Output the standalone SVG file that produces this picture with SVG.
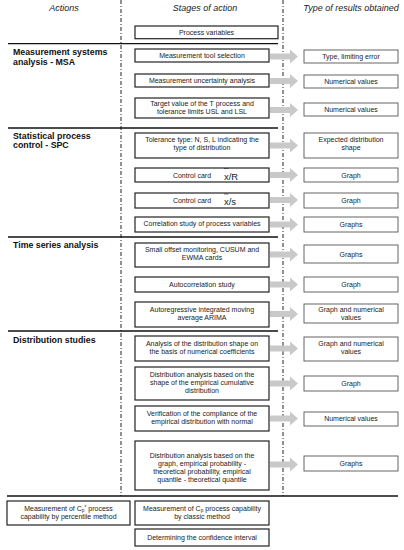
<svg xmlns="http://www.w3.org/2000/svg" xmlns:xlink="http://www.w3.org/1999/xlink" width="404" height="550" viewBox="0 0 404 550">
<style>
.bg{fill:#fff}
.st{fill:#fff;stroke:#222;stroke-width:1.2}
.rs{fill:#fff;stroke:#555;stroke-width:0.9}
.t{font-family:"Liberation Sans",Arial,sans-serif;font-size:7px;fill:#222;text-anchor:middle}
.big{font-size:9.5px}
.h{font-family:"Liberation Sans",Arial,sans-serif;font-size:9px;font-style:italic;fill:#222;text-anchor:middle}
.lb{font-family:"Liberation Sans",Arial,sans-serif;font-size:8.8px;font-weight:bold;fill:#111}
.vl{stroke:#222;stroke-width:1;stroke-dasharray:4 2 1 2;fill:none}
.hl{stroke:#111;stroke-width:1.3;fill:none}
.ar{fill:#c9c9c9}
</style>
<defs>
<path id="arr" d="M0,-3 H20 V-7 L28,0 L20,7 V3 H0 Z"/>
</defs>
<rect class="bg" width="404" height="550"/>
<g id="headers">
<text class="h" x="64" y="11">Actions</text>
<text class="h" x="205" y="11">Stages of action</text>
<text class="h" x="351" y="11">Type of results obtained</text>
</g>
<g id="dividers">
<line class="vl" x1="121" y1="0" x2="121" y2="496"/>
<line class="vl" x1="283" y1="0" x2="283" y2="496"/>
<line class="hl" x1="8" y1="43.7" x2="278" y2="43.7"/>
<line class="hl" x1="8" y1="128" x2="278" y2="128"/>
<line class="hl" x1="8" y1="237" x2="278" y2="237"/>
<line class="hl" x1="8" y1="331" x2="278" y2="331"/>
<line class="hl" x1="7" y1="496" x2="398" y2="496"/>
</g>
<g id="labels">
<text class="lb" x="13" y="55">Measurement systems</text>
<text class="lb" x="13" y="64.5">analysis - MSA</text>
<text class="lb" x="13" y="139">Statistical process</text>
<text class="lb" x="13" y="148">control - SPC</text>
<text class="lb" x="13" y="248">Time series analysis</text>
<text class="lb" x="13" y="343">Distribution studies</text>
</g>
<g id="connectors" class="ar">
<use xlink:href="#arr" x="270" y="56.5"/>
<use xlink:href="#arr" x="270" y="81"/>
<use xlink:href="#arr" x="270" y="110"/>
<use xlink:href="#arr" x="270" y="145.5"/>
<use xlink:href="#arr" x="270" y="175"/>
<use xlink:href="#arr" x="270" y="200"/>
<use xlink:href="#arr" x="270" y="224.5"/>
<use xlink:href="#arr" x="270" y="254.5"/>
<use xlink:href="#arr" x="270" y="284.5"/>
<use xlink:href="#arr" x="270" y="314"/>
<use xlink:href="#arr" x="270" y="348.5"/>
<use xlink:href="#arr" x="270" y="383.5"/>
<use xlink:href="#arr" x="270" y="418.5"/>
<use xlink:href="#arr" x="270" y="464.5"/>
</g>
<g id="s-process-variables"><rect class="st" x="135" y="26" width="143" height="12.7"/><text class="t" x="206.5" y="34.8">Process variables</text></g>
<g id="s-tool"><rect class="st" x="135" y="49" width="134" height="13"/><text class="t" x="202" y="58">Measurement tool selection</text></g>
<g id="s-uncert"><rect class="st" x="135" y="74" width="134" height="13"/><text class="t" x="202" y="83">Measurement uncertainty analysis</text></g>
<g id="s-target"><rect class="st" x="135" y="98" width="134" height="20"/><text class="t" x="202" y="106.3">Target value of the T process and</text><text class="t" x="202" y="114.3">tolerance limits USL and LSL</text></g>
<g id="s-tolerance"><rect class="st" x="135" y="133" width="134" height="25"/><text class="t" x="202" y="142.3">Tolerance type: N, S, L indicating the</text><text class="t" x="202" y="150.3">type of distribution</text></g>
<g id="s-xr"><rect class="st" x="135" y="168" width="134" height="14"/><text class="t" x="192" y="177.5">Control card</text><text class="t big" x="231" y="179.5">x/R</text><line x1="224" y1="168.5" x2="228.5" y2="168.5" stroke="#222" stroke-width="0.6"/></g>
<g id="s-xs"><rect class="st" x="135" y="193" width="134" height="15"/><text class="t" x="192" y="203">Control card</text><text class="t big" x="230" y="204.5">x/s</text><line x1="224" y1="194" x2="228.5" y2="194" stroke="#222" stroke-width="0.6"/></g>
<g id="s-corr"><rect class="st" x="135" y="217" width="134" height="15"/><text class="t" x="202" y="225.8">Correlation study of process variables</text></g>
<g id="s-offset"><rect class="st" x="135" y="243" width="134" height="24"/><text class="t" x="202" y="252">Small offset monitoring, CUSUM and</text><text class="t" x="202" y="260">EWMA cards</text></g>
<g id="s-autocorr"><rect class="st" x="135" y="277" width="134" height="15"/><text class="t" x="202" y="287">Autocorrelation study</text></g>
<g id="s-arima"><rect class="st" x="135" y="302" width="134" height="25"/><text class="t" x="202" y="312">Autoregressive integrated moving</text><text class="t" x="202" y="320">average ARIMA</text></g>
<g id="s-shape"><rect class="st" x="135" y="336" width="134" height="25"/><text class="t" x="202" y="346">Analysis of the distribution shape on</text><text class="t" x="202" y="354">the basis of numerical coefficients</text></g>
<g id="s-cumul"><rect class="st" x="135" y="367" width="134" height="33"/><text class="t" x="202" y="376.5">Distribution analysis based on the</text><text class="t" x="202" y="384.5">shape of the empirical cumulative</text><text class="t" x="202" y="392.5">distribution</text></g>
<g id="s-verif"><rect class="st" x="135" y="406" width="134" height="25"/><text class="t" x="202" y="416">Verification of the compliance of the</text><text class="t" x="202" y="424">empirical distribution with normal</text></g>
<g id="s-graph"><rect class="st" x="135" y="441" width="134" height="49"/><text class="t" x="202" y="458">Distribution analysis based on the</text><text class="t" x="202" y="466">graph, empirical probability -</text><text class="t" x="202" y="474">theoretical probability, empirical</text><text class="t" x="202" y="482">quantile - theoretical quantile</text></g>
<g id="s-cpstar"><rect class="st" x="7" y="501" width="123" height="24"/><text class="t" x="68.5" y="510.5">Measurement of C<tspan font-size="4.8" dy="1.5">p</tspan><tspan font-size="4.8" dy="-3.5">*</tspan><tspan dy="2"> process</tspan></text><text class="t" x="68.5" y="519">capability by percentile method</text></g>
<g id="s-cp"><rect class="st" x="135" y="501" width="134" height="24"/><text class="t" x="202" y="510.5">Measurement of C<tspan font-size="4.8" dy="1.5">p</tspan><tspan dy="-1.5"> process capability</tspan></text><text class="t" x="202" y="519">by classic method</text></g>
<g id="s-conf"><rect class="st" x="135" y="529" width="134" height="17"/><text class="t" x="202" y="540">Determining the confidence interval</text></g>
<g id="r1"><rect class="rs" x="304" y="50" width="94" height="13"/><text class="t" x="351" y="59">Type, limiting error</text></g>
<g id="r2"><rect class="rs" x="304" y="75" width="94" height="13"/><text class="t" x="351" y="84">Numerical values</text></g>
<g id="r3"><rect class="rs" x="304" y="103" width="94" height="13"/><text class="t" x="351" y="112">Numerical values</text></g>
<g id="r4"><rect class="rs" x="304" y="133" width="94" height="25"/><text class="t" x="351" y="142.3">Expected distribution</text><text class="t" x="351" y="150.3">shape</text></g>
<g id="r5"><rect class="rs" x="304" y="168" width="94" height="14"/><text class="t" x="351" y="177.5">Graph</text></g>
<g id="r6"><rect class="rs" x="304" y="193" width="94" height="15"/><text class="t" x="351" y="202.5">Graph</text></g>
<g id="r7"><rect class="rs" x="304" y="217" width="94" height="15"/><text class="t" x="351" y="227">Graphs</text></g>
<g id="r8"><rect class="rs" x="304" y="245" width="94" height="18"/><text class="t" x="351" y="256.5">Graphs</text></g>
<g id="r9"><rect class="rs" x="304" y="277" width="94" height="15"/><text class="t" x="351" y="287">Graph</text></g>
<g id="r10"><rect class="rs" x="304" y="304" width="94" height="19"/><text class="t" x="351" y="312">Graph and numerical</text><text class="t" x="351" y="320">values</text></g>
<g id="r11"><rect class="rs" x="304" y="337" width="94" height="24"/><text class="t" x="351" y="345.5">Graph and numerical</text><text class="t" x="351" y="353.5">values</text></g>
<g id="r12"><rect class="rs" x="304" y="376" width="94" height="15"/><text class="t" x="351" y="386">Graph</text></g>
<g id="r13"><rect class="rs" x="304" y="412" width="94" height="14"/><text class="t" x="351" y="421">Numerical values</text></g>
<g id="r14"><rect class="rs" x="304" y="456" width="94" height="15"/><text class="t" x="351" y="465.5">Graphs</text></g>
</svg>
